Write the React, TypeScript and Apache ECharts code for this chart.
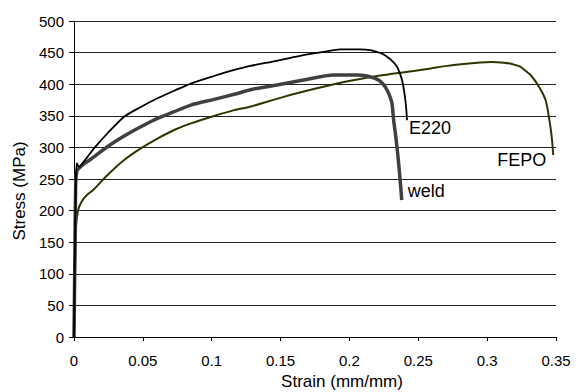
import React, { useEffect, useRef } from "react";
import * as echarts from "echarts";

const xTicks = [0, 0.05, 0.1, 0.15, 0.2, 0.25, 0.3, 0.35];
const yTicks = [0, 50, 100, 150, 200, 250, 300, 350, 400, 450, 500];

const e220Strain = [0, 0.0005, 0.0012, 0.002, 0.0036, 0.0065, 0.0105, 0.0145, 0.0242, 0.0364, 0.0485, 0.0606, 0.0727, 0.0848, 0.1017, 0.1163, 0.1279, 0.1473, 0.1667, 0.1812, 0.1933, 0.2079, 0.215, 0.22, 0.224, 0.2273, 0.231, 0.2346, 0.2365, 0.2382, 0.2395, 0.2406, 0.2413, 0.2418];
const e220Stress = [0, 110, 230, 275, 269, 276, 287, 298.5, 322, 348.6, 364, 377.7, 389.7, 401, 413, 422.5, 429, 437, 446, 451, 455, 455, 454, 451, 448, 443.5, 437, 427.7, 418, 406.6, 392, 375, 360, 343];

const weldStrain = [0, 0.0006, 0.0012, 0.002, 0.0036, 0.008, 0.0145, 0.0242, 0.0364, 0.0485, 0.0606, 0.0727, 0.0848, 0.1017, 0.1163, 0.1297, 0.1473, 0.1667, 0.1885, 0.2055, 0.2128, 0.2175, 0.2212, 0.2245, 0.2273, 0.2295, 0.2309, 0.2321, 0.2335, 0.2345, 0.2355, 0.2364, 0.2372, 0.238];
const weldStress = [0, 120, 240, 262, 267, 275, 285, 301, 318, 332.7, 346, 356.5, 367, 376, 384, 392, 398.7, 406.6, 414.6, 414.6, 413, 410, 406.6, 400, 390.8, 380, 369.8, 343, 320, 301, 280, 259, 238, 216.8];

const fepoStrain = [0, 0.0003, 0.0008, 0.0015, 0.003, 0.0055, 0.009, 0.0145, 0.0242, 0.0364, 0.0485, 0.0606, 0.0727, 0.0848, 0.1017, 0.1163, 0.1279, 0.1522, 0.1764, 0.2007, 0.2249, 0.2466, 0.259, 0.271, 0.283, 0.295, 0.303, 0.312, 0.318, 0.324, 0.328, 0.3315, 0.3346, 0.3376, 0.3402, 0.3424, 0.3438, 0.3448, 0.3458, 0.3466, 0.3474, 0.348];
const fepoStress = [0, 50, 110, 175, 201, 214, 224, 233.7, 256, 280, 298.5, 314, 327.5, 338, 349.7, 359, 364.4, 380, 393.5, 405.5, 414.6, 421, 425, 429, 432, 434.5, 435, 434, 432, 427.7, 421, 414.6, 406, 396, 386, 375, 362, 348.6, 335, 322, 305, 288];

const zip = (xs: number[], ys: number[]) => xs.map((x, i) => [x, ys[i]]);

const FONT = "Arial, 'Liberation Sans', sans-serif";

export default function App() {
  const ref = useRef<HTMLDivElement>(null);
  useEffect(() => {
    document.body.style.margin = "0";
    const chart = echarts.init(ref.current!, null, { renderer: "svg" });
    chart.setOption({
      animation: false,
      backgroundColor: "#ffffff",
      textStyle: { fontFamily: FONT, color: "#000" },
      grid: { left: 74, right: 22, top: 21, bottom: 55, containLabel: false, outerBoundsMode: "none" },
      xAxis: {
        type: "value",
        min: xTicks[0],
        max: xTicks[xTicks.length - 1],
        interval: 0.05,
        name: "Strain (mm/mm)",
        nameLocation: "middle",
        nameGap: 34,
        nameTextStyle: { fontSize: 17, color: "#000", fontFamily: FONT, padding: [0, 0, 0, 54] },
        axisLine: { show: true, onZero: false, lineStyle: { color: "#000", width: 1 } },
        axisTick: { show: true, length: 4, lineStyle: { color: "#000" } },
        axisLabel: {
          fontSize: 15,
          color: "#000",
          fontFamily: FONT,
          margin: 16,
          formatter: (v: number) => String(+v.toFixed(2)),
        },
        splitLine: { show: false },
      },
      yAxis: {
        type: "value",
        min: yTicks[0],
        max: yTicks[yTicks.length - 1],
        interval: 50,
        name: "Stress (MPa)",
        nameLocation: "middle",
        nameGap: 42,
        nameTextStyle: { fontSize: 17, color: "#000", fontFamily: FONT, padding: [0, 24, 0, 0] },
        axisLine: { show: true, lineStyle: { color: "#000", width: 1 } },
        axisTick: { show: true, length: 5, lineStyle: { color: "#000" } },
        axisLabel: { fontSize: 15, color: "#000", fontFamily: FONT, margin: 10 },
        splitLine: { show: true, lineStyle: { color: "#222", width: 1 } },
      },
      series: [
        {
          name: "FEPO",
          type: "line",
          data: zip(fepoStrain, fepoStress),
          showSymbol: false,
          symbol: "none",
          smooth: 0.25,
          lineStyle: { color: "#333300", width: 2 },
          itemStyle: { color: "#333300" },
          endLabel: {
            show: true,
            formatter: "FEPO",
            distance: 5,
            offset: [-61, 5],
            fontSize: 18,
            color: "#000",
            fontFamily: FONT,
          },
          z: 2,
        },
        {
          name: "weld",
          type: "line",
          data: zip(weldStrain, weldStress),
          showSymbol: false,
          symbol: "none",
          smooth: 0.25,
          lineStyle: { color: "#404040", width: 3.5 },
          itemStyle: { color: "#404040" },
          endLabel: {
            show: true,
            formatter: "weld",
            distance: 6,
            offset: [0, -9],
            fontSize: 18,
            color: "#000",
            fontFamily: FONT,
          },
          z: 3,
        },
        {
          name: "E220",
          type: "line",
          data: zip(e220Strain, e220Stress),
          showSymbol: false,
          symbol: "none",
          smooth: 0.25,
          lineStyle: { color: "#000000", width: 1.8 },
          itemStyle: { color: "#000000" },
          endLabel: {
            show: true,
            formatter: "E220",
            distance: 2,
            offset: [0, 8],
            fontSize: 18,
            color: "#000",
            fontFamily: FONT,
          },
          z: 4,
        },
      ],
    });
    return () => chart.dispose();
  }, []);
  return <div ref={ref} style={{ width: 578, height: 392 }} />;
}
